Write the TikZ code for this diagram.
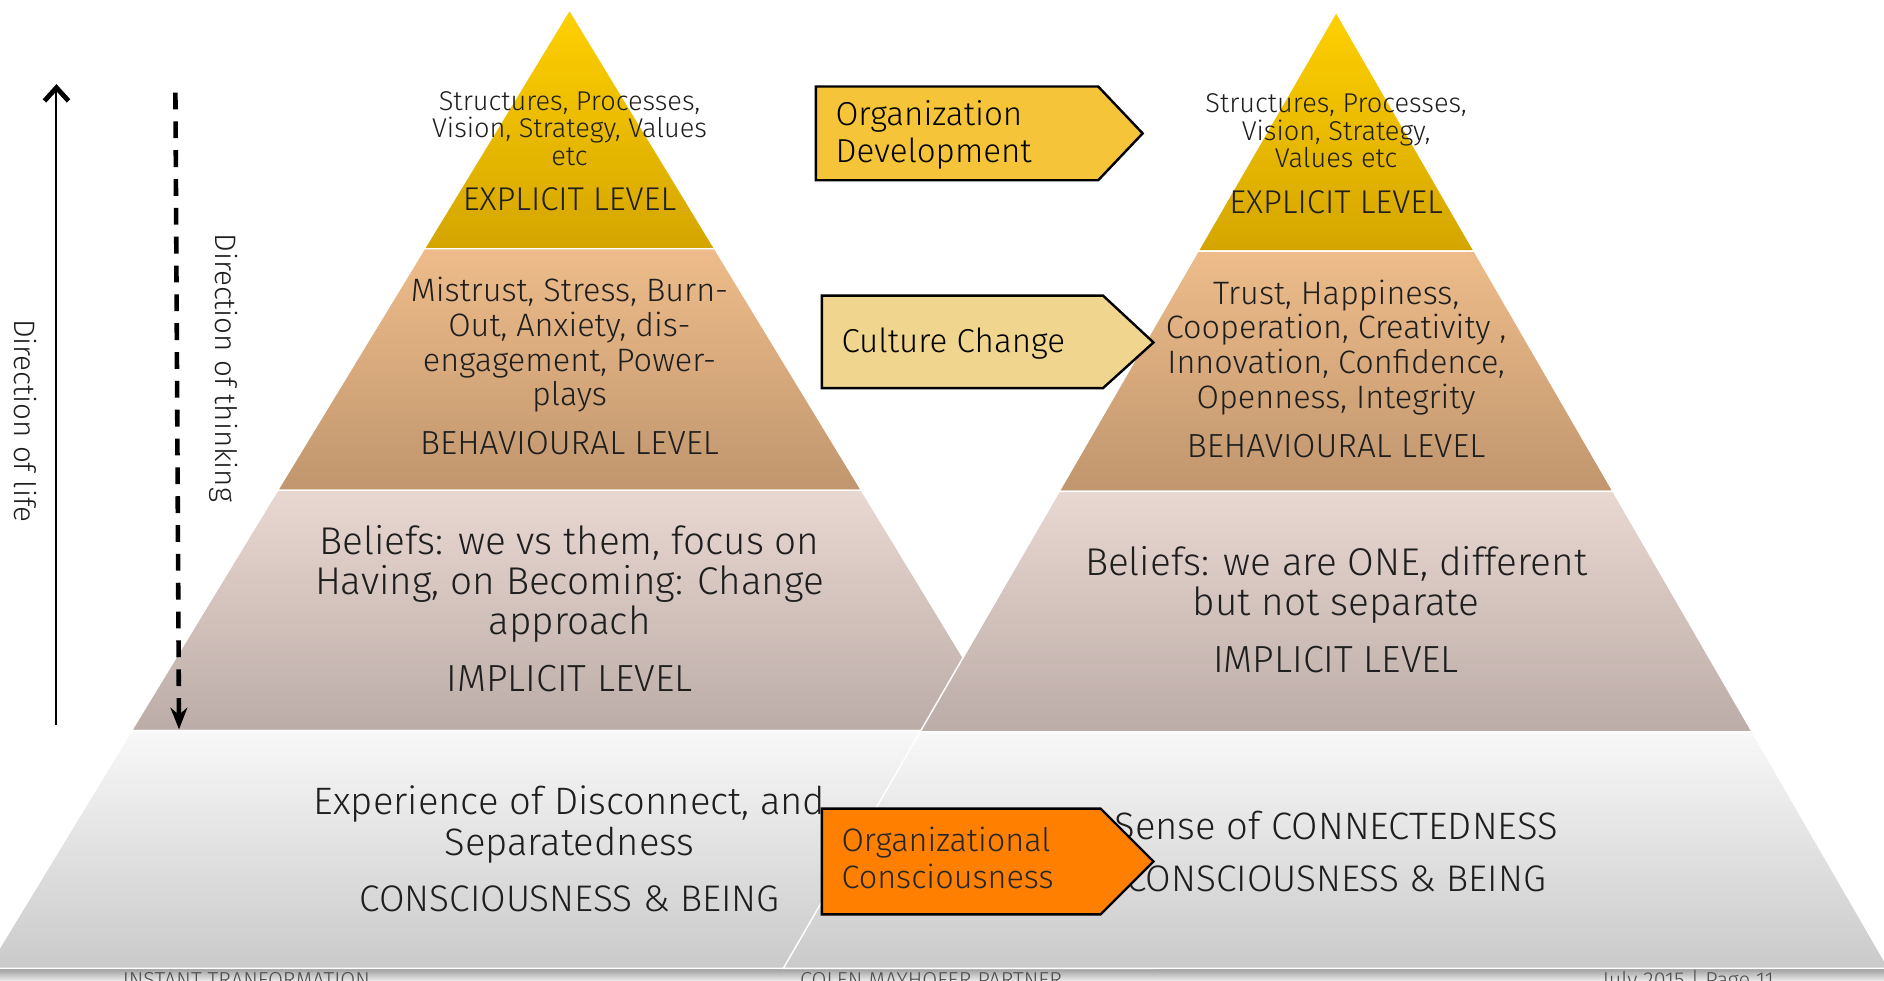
\documentclass[tikz,border=0pt]{standalone}
\usepackage{fontspec}
\setmainfont{Fira Sans}[UprightFont=* Light]
\usetikzlibrary{arrows.meta}

\definecolor{goldtop}{RGB}{255,208,0}
\definecolor{goldbot}{RGB}{212,165,0}
\definecolor{behtop}{RGB}{238,188,138}
\definecolor{behbot}{RGB}{192,150,110}
\definecolor{imptop}{RGB}{233,216,209}
\definecolor{impbot}{RGB}{188,172,167}
\definecolor{contop}{RGB}{248,248,248}
\definecolor{conbot}{RGB}{202,202,202}
\definecolor{odfill}{RGB}{245,196,56}
\definecolor{ccfill}{RGB}{239,213,142}
\definecolor{ocfill}{RGB}{255,127,0}
\definecolor{txtgray}{RGB}{30,30,30}

\newcommand\fs[2]{\fontsize{#1}{#2}\selectfont}

\tikzset{
  layer/.style={draw=white, line width=.6pt},
  lbl/.style={align=center, text=txtgray, inner sep=0pt},
  tagbox/.style={draw=black, line width=1pt, line join=miter},
  tagtext/.style={align=left, anchor=west, inner sep=0pt, font=\fs{13.8}{15.5}},
  foot/.style={text=black!70, font=\fs{9}{10}, anchor=base},
}

\begin{document}
\begin{tikzpicture}[x=.5pt, y=-.5pt]
\clip (0,0) rectangle (1568,816);
\path [fill=white] (0,0) rectangle (1568,816);

% shadow and footer
\path [top color=black!45, bottom color=black!8] (0,804) rectangle (1568,816);
\node (ftl) [foot] at (205,822) {INSTANT TRANFORMATION};
\node (ftm) [foot] at (775,822) {COLEN MAYHOFER PARTNER};
\node (ftr) [foot] at (1405,822) {July 2015 | Page 11};

% left pyramid
\path [layer, top color=goldtop, bottom color=goldbot] (474,8) -- (594.9,207) -- (353.1,207) -- cycle;
\path [layer, top color=behtop, bottom color=behbot] (353.1,207) -- (594.9,207) -- (717,408) -- (231,408) -- cycle;
\path [layer, top color=imptop, bottom color=impbot] (231,408) -- (717,408) -- (838.5,608) -- (109.5,608) -- cycle;
\path [layer, top color=contop, bottom color=conbot] (109.5,608) -- (838.5,608) -- (958.8,806) -- (-10.8,806) -- cycle;

% right pyramid
\path [layer, top color=goldtop, bottom color=goldbot] (1112,10) -- (1227,209) -- (997,209) -- cycle;
\path [layer, top color=behtop, bottom color=behbot] (997,209) -- (1227,209) -- (1342.6,409) -- (881.4,409) -- cycle;
\path [layer, top color=imptop, bottom color=impbot] (881.4,409) -- (1342.6,409) -- (1458.2,609) -- (765.8,609) -- cycle;
\path [layer, top color=contop, bottom color=conbot] (765.8,609) -- (1458.2,609) -- (1572.1,806) -- (651.9,806) -- cycle;

% left texts
\node (lstruct) [lbl, font=\fs{11.3}{11.5}] at (474,107) {Structures, Processes,\\Vision, Strategy, Values\\etc};
\node (lexpl) [lbl, font=\fs{13.7}{15}] at (474,166) {EXPLICIT LEVEL};
\node (lbeh) [lbl, font=\fs{13.5}{14.4}] at (474,287) {Mistrust, Stress, Burn-\\Out, Anxiety, dis-\\engagement, Power-\\plays};
\node (lbehl) [lbl, font=\fs{13.9}{15}] at (474,369) {BEHAVIOURAL LEVEL};
\node (limp) [lbl, font=\fs{16.1}{16.6}] at (474,486) {Beliefs: we vs them, focus on\\Having, on Becoming: Change\\approach};
\node (limpl) [lbl, font=\fs{15.7}{17}] at (474,565) {IMPLICIT LEVEL};
\node (lcon) [lbl, font=\fs{15.9}{17}] at (474,686) {Experience of Disconnect, and\\Separatedness};
\node (lconl) [lbl, font=\fs{15.4}{17}] at (474,748) {CONSCIOUSNESS \& BEING};

% right texts
\node (rstruct) [lbl, font=\fs{11.3}{11.5}] at (1112,109) {Structures, Processes,\\Vision, Strategy,\\Values etc};
\node (rexpl) [lbl, font=\fs{13.7}{15}] at (1112,168) {EXPLICIT LEVEL};
\node (rbeh) [lbl, font=\fs{13.5}{14.4}] at (1112,289) {Trust, Happiness,\\Cooperation, Creativity ,\\Innovation, Confidence,\\Openness, Integrity};
\node (rbehl) [lbl, font=\fs{13.9}{15}] at (1112,371) {BEHAVIOURAL LEVEL};
\node (rimp) [lbl, font=\fs{16.1}{16.6}] at (1112,487) {Beliefs: we are ONE, different\\but not separate};
\node (rimpl) [lbl, font=\fs{15.7}{17}] at (1112,549) {IMPLICIT LEVEL};
\node (rcon) [lbl, font=\fs{15.9}{17}] at (1112,687) {Sense of CONNECTEDNESS};
\node (rconl) [lbl, font=\fs{15.4}{17}] at (1112,731) {CONSCIOUSNESS \& BEING};

% arrow tags
\path [tagbox, fill=odfill] (679,72) -- (914,72) -- (951,111) -- (914,150) -- (679,150) -- cycle;
\node (od) [tagtext] at (695,112) {Organization\\Development};
\path [tagbox, fill=ccfill] (684,246) -- (918,246) -- (960,285) -- (918,323) -- (684,323) -- cycle;
\node (cc) [tagtext] at (700,286) {Culture Change};
\path [tagbox, fill=ocfill] (684,673) -- (916,673) -- (960,717) -- (916,761) -- (684,761) -- cycle;
\node (oc) [tagtext, font=\fs{13.5}{15.5}, text=black!85] at (700,714) {Organizational\\Consciousness};

% directions
\coordinate (lifeS) at (47,603);
\coordinate (lifeE) at (47,70);
\path [draw, line width=.85pt, -{Straight Barb[length=5.5pt, width=10pt, line width=2pt]}] (lifeS) -- (lifeE);
\node (life) [lbl, rotate=-90, font=\fs{12.3}{15}] at (21,350) {Direction of life};
\coordinate (thinkS) at (146,77);
\coordinate (thinkE) at (149,607);
\path [draw, line width=1.9pt, dash pattern=on 7pt off 5pt, -{Stealth[length=9pt, width=7pt]}] (thinkS) -- (thinkE);
\node (think) [lbl, rotate=-90, font=\fs{12.3}{15}] at (186,306) {Direction of thinking};
\end{tikzpicture}
\end{document}
